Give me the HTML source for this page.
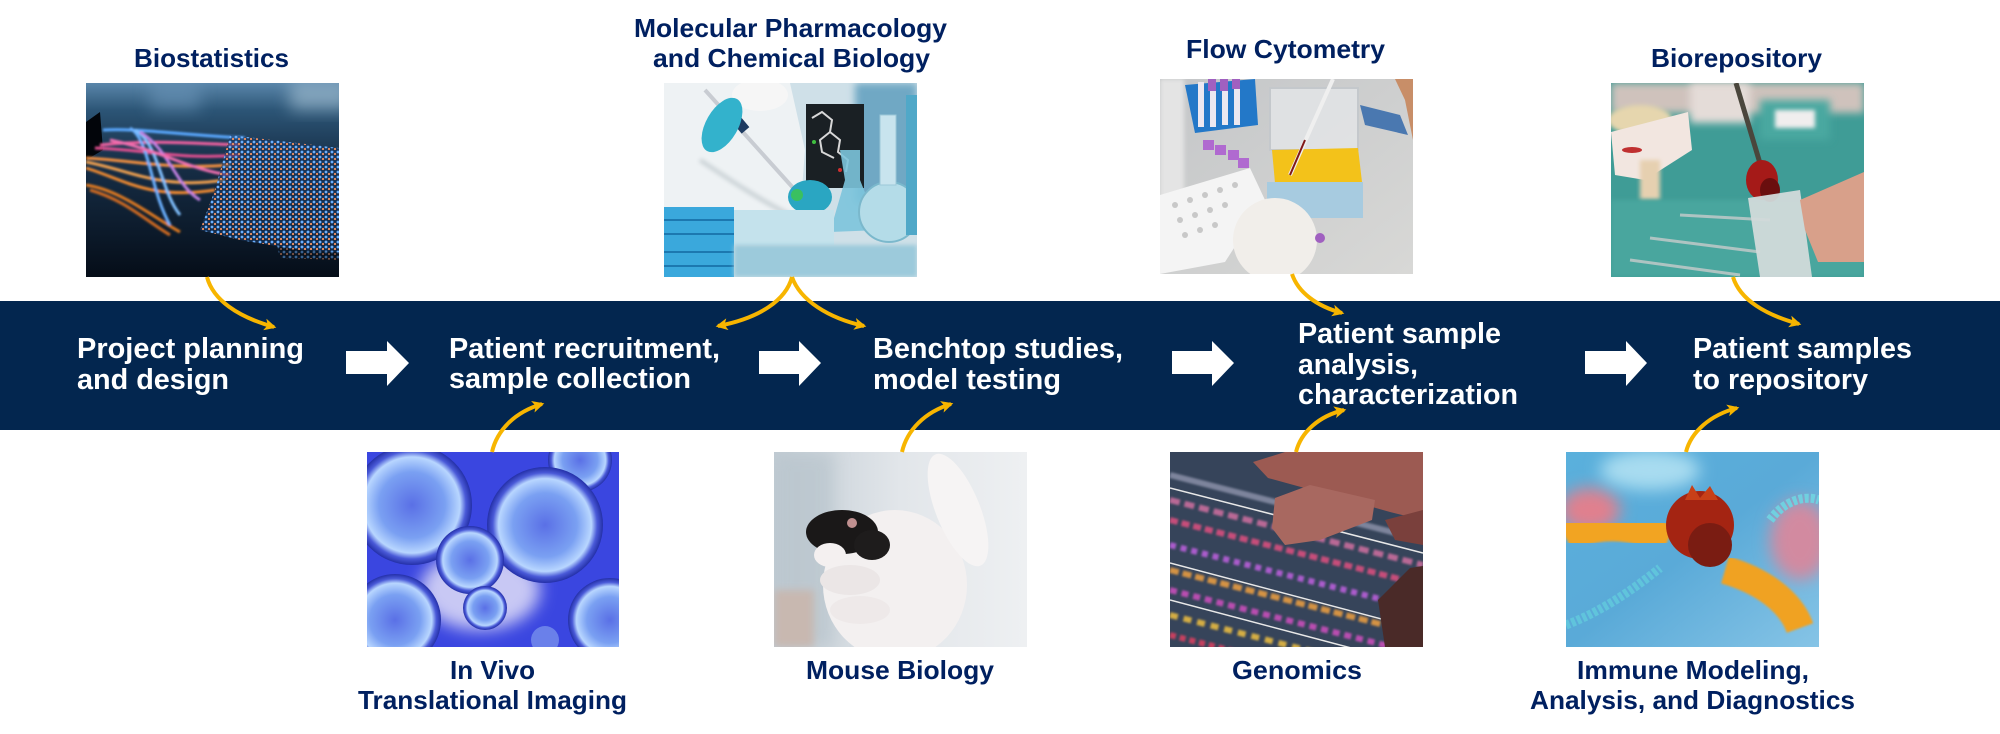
<!DOCTYPE html>
<html>
<head>
<meta charset="utf-8">
<style>
html,body{margin:0;padding:0;background:#fff;}
body{width:2000px;height:734px;overflow:hidden;}
svg{display:block;}
.t{font-family:"Liberation Sans",Arial,sans-serif;font-weight:bold;}
.lbl{fill:#002060;font-size:26px;}
.bt{fill:#ffffff;font-size:29px;}
</style>
</head>
<body>
<svg width="2000" height="734" viewBox="0 0 2000 734" xmlns="http://www.w3.org/2000/svg">
<defs>
  <filter id="b1" x="-20%" y="-20%" width="140%" height="140%"><feGaussianBlur stdDeviation="1"/></filter>
  <filter id="b2" x="-20%" y="-20%" width="140%" height="140%"><feGaussianBlur stdDeviation="2"/></filter>
  <filter id="b4" x="-30%" y="-30%" width="160%" height="160%"><feGaussianBlur stdDeviation="4"/></filter>
  <filter id="b8" x="-40%" y="-40%" width="180%" height="180%"><feGaussianBlur stdDeviation="8"/></filter>
  <marker id="ah" viewBox="0 0 10 10" refX="8" refY="5" markerWidth="3.2" markerHeight="3" orient="auto" markerUnits="strokeWidth">
    <path d="M0,0 L10,5 L0,10 L2.5,5 z" fill="#f7b500"/>
  </marker>
  <clipPath id="c1"><rect x="86" y="83" width="253" height="194"/></clipPath>
  <clipPath id="c2"><rect x="664" y="83" width="253" height="194"/></clipPath>
  <clipPath id="c3"><rect x="1160" y="79" width="253" height="195"/></clipPath>
  <clipPath id="c4"><rect x="1611" y="83" width="253" height="194"/></clipPath>
  <clipPath id="c5"><rect x="367" y="452" width="252" height="195"/></clipPath>
  <clipPath id="c6"><rect x="774" y="452" width="253" height="195"/></clipPath>
  <clipPath id="c7"><rect x="1170" y="452" width="253" height="195"/></clipPath>
  <clipPath id="c8"><rect x="1566" y="452" width="253" height="195"/></clipPath>
  <linearGradient id="g1" x1="0" y1="0" x2="0" y2="1">
    <stop offset="0" stop-color="#5a86aa"/><stop offset="0.14" stop-color="#2c5576"/>
    <stop offset="0.4" stop-color="#172f48"/><stop offset="1" stop-color="#050d18"/>
  </linearGradient>
  <pattern id="dots" width="6" height="5" patternUnits="userSpaceOnUse">
    <circle cx="2" cy="2" r="1.4" fill="#6ab0ff"/>
    <circle cx="5" cy="4" r="1.1" fill="#f09060"/>
  </pattern>
  <linearGradient id="g3" x1="0" y1="0" x2="1" y2="1">
    <stop offset="0" stop-color="#c4c6c8"/><stop offset="1" stop-color="#d8d8d6"/>
  </linearGradient>
  <radialGradient id="bub" cx="0.5" cy="0.5" r="0.5">
    <stop offset="0" stop-color="#5a70e6"/><stop offset="0.55" stop-color="#7aa0f2"/>
    <stop offset="0.8" stop-color="#b8d6ff"/><stop offset="0.9" stop-color="#4a5ad8"/>
    <stop offset="1" stop-color="#2430a8"/>
  </radialGradient>
  <linearGradient id="g6" x1="0" y1="0" x2="1" y2="0">
    <stop offset="0" stop-color="#c2ccd4"/><stop offset="0.5" stop-color="#e2e6ea"/><stop offset="1" stop-color="#eef0f2"/>
  </linearGradient>
  <linearGradient id="g8" x1="0" y1="0" x2="1" y2="1">
    <stop offset="0" stop-color="#5ab0dc"/><stop offset="0.5" stop-color="#5aaad8"/><stop offset="1" stop-color="#86c4e6"/>
  </linearGradient>
</defs>

<rect width="2000" height="734" fill="#ffffff"/>

<!-- ===== Image 1: Biostatistics ===== -->
<g clip-path="url(#c1)">
  <rect x="86" y="83" width="253" height="194" fill="url(#g1)"/>
  <rect x="150" y="80" width="50" height="30" fill="#6a94b8" filter="url(#b8)" opacity="0.6"/>
  <rect x="290" y="80" width="60" height="30" fill="#9ab8cc" filter="url(#b8)" opacity="0.7"/>
  <polygon points="86,122 100,112 103,150 86,160" fill="#02050a"/>
  <g filter="url(#b1)" fill="none" stroke-width="3">
    <path d="M103,130 C140,128 180,135 245,138" stroke="#5aa8ff"/>
    <path d="M100,145 C150,140 185,143 240,145" stroke="#f060a0"/>
    <path d="M95,148 C150,150 180,160 240,155" stroke="#e05090"/>
    <path d="M86,158 C130,160 170,170 230,165" stroke="#f39040"/>
    <path d="M86,162 C130,170 160,190 225,180" stroke="#f0a050"/>
    <path d="M86,168 C125,180 150,200 215,190" stroke="#f08a30"/>
    <path d="M86,185 C120,190 150,215 180,232" stroke="#e07a20"/>
    <path d="M90,190 C125,200 145,220 170,235" stroke="#d06a20"/>
    <path d="M130,128 C150,140 150,190 170,225" stroke="#6ab0ff"/>
    <path d="M135,130 C160,145 160,190 180,215" stroke="#80c0ff"/>
    <path d="M140,132 C170,150 175,185 200,200" stroke="#c080e0"/>
    <path d="M110,140 C160,150 190,170 230,175" stroke="#f070b0"/>
  </g>
  <polygon points="230,135 339,148 339,252 300,250 240,240 200,230 215,190" fill="#1a3a66" opacity="0.6"/>
  <polygon points="230,135 339,148 339,252 300,250 240,240 200,230 215,190" fill="url(#dots)"/>
  <polygon points="270,215 339,225 339,260 280,258" fill="url(#dots)" opacity="0.5"/>
</g>

<!-- ===== Image 2: Molecular Pharmacology ===== -->
<g clip-path="url(#c2)">
  <rect x="664" y="83" width="253" height="194" fill="#cfe0e8"/>
  <rect x="855" y="83" width="62" height="120" fill="#6fa8c4" filter="url(#b4)"/>
  <rect x="806" y="104" width="58" height="84" fill="#1a2024"/>
  <g stroke="#d8d8d8" stroke-width="2" fill="none">
    <path d="M812,118 L822,112 L832,120 L830,132 L840,140 L838,152 L848,160 L846,172"/>
    <path d="M830,132 L820,140 L822,152 L834,158"/>
  </g>
  <circle cx="814" cy="142" r="2" fill="#40c040"/>
  <circle cx="840" cy="170" r="2" fill="#d03030"/>
  <polygon points="664,83 790,83 805,150 800,215 760,240 664,235" fill="#eef2f4"/>
  <path d="M700,160 C730,180 760,200 790,215" stroke="#c8d0d4" stroke-width="4" fill="none" filter="url(#b2)"/>
  <ellipse cx="760" cy="95" rx="28" ry="16" fill="#f6f6f6"/>
  <line x1="705" y1="90" x2="795" y2="190" stroke="#c8ccd2" stroke-width="4"/>
  <rect x="736" y="118" width="10" height="14" fill="#1d3a60" transform="rotate(-40 741 125)"/>
  <ellipse cx="722" cy="125" rx="16" ry="30" fill="#33b2cc" transform="rotate(30 722 125)"/>
  <ellipse cx="810" cy="197" rx="22" ry="17" fill="#2aa6c2"/>
  <circle cx="797" cy="195" r="6" fill="#3ac060"/>
  <polygon points="840,150 860,150 860,180 880,230 830,232 845,180" fill="#7cc4dc" opacity="0.9"/>
  <circle cx="889" cy="212" r="30" fill="#b4dce8" stroke="#7ab8cc" stroke-width="2"/>
  <rect x="880" y="115" width="16" height="70" fill="#c8e4ee" stroke="#9cc8d8"/>
  <rect x="906" y="95" width="11" height="140" fill="#50a8c8"/>
  <rect x="664" y="207" width="70" height="70" fill="#3aa8dc"/>
  <g stroke="#1c78b0" stroke-width="2"><line x1="664" y1="220" x2="734" y2="220"/><line x1="664" y1="234" x2="734" y2="234"/><line x1="664" y1="252" x2="734" y2="252"/><line x1="664" y1="266" x2="734" y2="266"/></g>
  <rect x="734" y="210" width="100" height="35" fill="#c4e2ec"/>
  <rect x="734" y="245" width="183" height="32" fill="#9ccadb" filter="url(#b2)"/>
</g>

<!-- ===== Image 3: Flow Cytometry ===== -->
<g clip-path="url(#c3)">
  <rect x="1160" y="79" width="253" height="195" fill="url(#g3)"/>
  <rect x="1160" y="79" width="24" height="150" fill="#e4e4e4" filter="url(#b2)"/>
  <polygon points="1185,85 1255,79 1258,125 1195,133" fill="#2378c8"/>
  <g fill="#ece8f0"><rect x="1198" y="82" width="6" height="45"/><rect x="1210" y="82" width="6" height="45"/><rect x="1222" y="80" width="6" height="45"/><rect x="1234" y="80" width="6" height="45"/></g>
  <g fill="#a060c0"><rect x="1208" y="79" width="8" height="12"/><rect x="1220" y="79" width="8" height="12"/><rect x="1232" y="79" width="8" height="10"/></g>
  <rect x="1270" y="88" width="88" height="62" fill="#e2e4e6" stroke="#c4c8cc" stroke-width="2" opacity="0.9"/>
  <polygon points="1272,150 1358,148 1362,182 1275,183" fill="#f3c21a"/>
  <rect x="1267" y="182" width="96" height="36" fill="#a7cbe0"/>
  <polygon points="1160,195 1250,168 1265,200 1225,262 1160,274" fill="#f4f4f4"/>
  <g fill="#c8c8c8"><circle cx="1175" cy="205" r="3"/><circle cx="1190" cy="200" r="3"/><circle cx="1205" cy="195" r="3"/><circle cx="1220" cy="190" r="3"/><circle cx="1235" cy="185" r="3"/><circle cx="1180" cy="220" r="3"/><circle cx="1195" cy="215" r="3"/><circle cx="1210" cy="210" r="3"/><circle cx="1225" cy="205" r="3"/><circle cx="1185" cy="235" r="3"/><circle cx="1200" cy="230" r="3"/><circle cx="1215" cy="225" r="3"/></g>
  <g fill="#b06ad0"><rect x="1203" y="140" width="11" height="10"/><rect x="1215" y="145" width="11" height="10"/><rect x="1228" y="150" width="11" height="10"/><rect x="1238" y="158" width="11" height="10"/></g>
  <ellipse cx="1275" cy="240" rx="42" ry="42" fill="#f1eeea"/>
  <line x1="1333" y1="79" x2="1290" y2="175" stroke="#efefef" stroke-width="4"/>
  <line x1="1305" y1="140" x2="1290" y2="175" stroke="#801818" stroke-width="2"/>
  <polygon points="1360,105 1400,115 1408,135 1365,125" fill="#4a78b0"/>
  <polygon points="1395,79 1413,79 1413,140 1405,100" fill="#c88e68"/>
  <circle cx="1320" cy="238" r="5" fill="#a060c0"/>
</g>

<!-- ===== Image 4: Biorepository ===== -->
<g clip-path="url(#c4)">
  <rect x="1611" y="83" width="253" height="194" fill="#3f9c96"/>
  <rect x="1611" y="83" width="253" height="30" fill="#cfc2bc" filter="url(#b4)"/>
  <rect x="1690" y="83" width="60" height="40" fill="#e4dcd8" filter="url(#b4)"/>
  <rect x="1760" y="100" width="70" height="40" fill="#4aa8a0" filter="url(#b4)"/>
  <rect x="1775" y="110" width="40" height="18" fill="#f0eeee" filter="url(#b2)"/>
  <ellipse cx="1640" cy="120" rx="32" ry="15" fill="#e6d6ae" filter="url(#b2)"/>
  <polygon points="1611,132 1688,112 1692,150 1645,180 1615,175" fill="#f2e6e0"/>
  <ellipse cx="1632" cy="150" rx="10" ry="3" fill="#c03030"/>
  <rect x="1640" y="160" width="20" height="40" fill="#e6d0b0" filter="url(#b2)"/>
  <rect x="1611" y="200" width="253" height="77" fill="#48a69e" filter="url(#b2)"/>
  <g stroke="#c8cccc" stroke-width="3" opacity="0.8"><line x1="1650" y1="238" x2="1760" y2="252"/><line x1="1630" y1="260" x2="1740" y2="275"/><line x1="1680" y1="215" x2="1770" y2="220"/></g>
  <line x1="1736" y1="83" x2="1762" y2="170" stroke="#4a463c" stroke-width="5"/>
  <ellipse cx="1762" cy="180" rx="16" ry="20" fill="#a51a18"/>
  <ellipse cx="1770" cy="190" rx="10" ry="12" fill="#6a0e0e"/>
  <polygon points="1748,198 1800,190 1812,277 1760,277" fill="#d2dada" opacity="0.95"/>
  <polygon points="1800,200 1864,172 1864,262 1818,262 1805,230" fill="#d8a08a"/>
</g>

<!-- ===== Image 5: In Vivo ===== -->
<g clip-path="url(#c5)">
  <rect x="367" y="452" width="252" height="195" fill="#3a46e0"/>
  <ellipse cx="480" cy="590" rx="60" ry="40" fill="#c8c8f4" filter="url(#b8)"/>
  <circle cx="580" cy="460" r="32" fill="url(#bub)"/>
  <circle cx="412" cy="505" r="60" fill="url(#bub)"/>
  <circle cx="545" cy="525" r="58" fill="url(#bub)"/>
  <circle cx="470" cy="560" r="34" fill="url(#bub)"/>
  <circle cx="395" cy="620" r="46" fill="url(#bub)"/>
  <circle cx="610" cy="620" r="42" fill="url(#bub)"/>
  <circle cx="485" cy="608" r="22" fill="url(#bub)"/>
  <circle cx="545" cy="640" r="14" fill="#6a80ea"/>
</g>

<!-- ===== Image 6: Mouse Biology ===== -->
<g clip-path="url(#c6)">
  <rect x="774" y="452" width="253" height="195" fill="url(#g6)"/>
  <rect x="774" y="452" width="60" height="195" fill="#b8c4cc" filter="url(#b8)" opacity="0.7"/>
  <rect x="774" y="590" width="40" height="57" fill="#c8b8b0" filter="url(#b4)"/>
  <ellipse cx="895" cy="585" rx="72" ry="75" fill="#f3f0f0"/>
  <ellipse cx="958" cy="510" rx="22" ry="60" fill="#f6f4f4" transform="rotate(-22 958 510)"/>
  <ellipse cx="850" cy="580" rx="30" ry="15" fill="#ebe6e6"/>
  <ellipse cx="860" cy="610" rx="30" ry="14" fill="#eee9e9"/>
  <ellipse cx="842" cy="532" rx="36" ry="22" fill="#1a1818"/>
  <ellipse cx="872" cy="545" rx="18" ry="15" fill="#1e1c1c"/>
  <circle cx="852" cy="523" r="5" fill="#c09090"/>
  <ellipse cx="830" cy="555" rx="16" ry="12" fill="#f4f0f0"/>
</g>

<!-- ===== Image 7: Genomics ===== -->
<g clip-path="url(#c7)">
  <rect x="1170" y="452" width="253" height="195" fill="#36445a"/>
  <g fill="none" stroke-width="6" opacity="0.85" filter="url(#b1)">
    <path d="M1170,475 L1423,540" stroke="#8a90a8"/>
    <path d="M1170,500 L1423,565" stroke="#d070a0" stroke-dasharray="10,5"/>
    <path d="M1170,520 L1423,585" stroke="#e05080" stroke-dasharray="8,4"/>
    <path d="M1170,545 L1423,610" stroke="#c060e0" stroke-dasharray="6,5"/>
    <path d="M1170,570 L1423,635" stroke="#f0a040" stroke-dasharray="9,4"/>
    <path d="M1170,590 L1423,655" stroke="#d050c0" stroke-dasharray="7,5"/>
    <path d="M1170,615 L1423,680" stroke="#f0c040" stroke-dasharray="8,6"/>
    <path d="M1170,635 L1423,700" stroke="#e04060" stroke-dasharray="6,4"/>
  </g>
  <g stroke="#e8e8e8" stroke-width="1.5"><line x1="1170" y1="563" x2="1423" y2="630"/><line x1="1170" y1="600" x2="1423" y2="667"/><line x1="1170" y1="488" x2="1423" y2="553"/></g>
  <polygon points="1253,462 1285,452 1423,452 1423,520 1390,512 1330,495 1268,478" fill="#9c5a52"/>
  <polygon points="1275,498 1310,485 1375,500 1372,520 1320,540 1285,545 1272,528" fill="#a86860"/>
  <polygon points="1385,520 1423,510 1423,545 1395,540" fill="#7a403c"/>
  <polygon points="1378,600 1410,568 1423,566 1423,647 1385,647" fill="#4a2a28"/>
</g>

<!-- ===== Image 8: Immune Modeling ===== -->
<g clip-path="url(#c8)">
  <rect x="1566" y="452" width="253" height="195" fill="url(#g8)"/>
  <ellipse cx="1590" cy="510" rx="30" ry="22" fill="#e0808e" filter="url(#b8)"/>
  <ellipse cx="1800" cy="540" rx="30" ry="40" fill="#d28aa0" filter="url(#b8)"/>
  <ellipse cx="1650" cy="470" rx="50" ry="20" fill="#a8dcf0" filter="url(#b8)"/>
  <path d="M1770,520 C1785,500 1805,495 1819,500" stroke="#70d0e0" stroke-width="9" fill="none" stroke-dasharray="4,2"/>
  <path d="M1566,625 C1600,612 1630,592 1660,568" stroke="#60c4dc" stroke-width="9" fill="none" stroke-dasharray="4,2"/>
  <path d="M1566,538 C1595,522 1630,522 1668,540" stroke="#f2a420" stroke-width="30" fill="none" filter="url(#b1)"/>
  <path d="M1725,570 C1760,580 1790,600 1800,628" stroke="#f0a222" stroke-width="28" fill="none" filter="url(#b1)"/>
  <ellipse cx="1700" cy="525" rx="34" ry="34" fill="#a42412"/>
  <ellipse cx="1710" cy="545" rx="22" ry="22" fill="#7a1c12"/>
  <polygon points="1685,500 1692,485 1700,498 1710,486 1718,500" fill="#c84018"/>
</g>

<!-- ===== Band ===== -->
<rect x="0" y="301" width="2000" height="129" fill="#03264f"/>

<!-- White block arrows -->
<g fill="#ffffff">
  <polygon points="346,351 387,351 387,341 409,363 387,386 387,374 346,374"/>
  <polygon points="759,351 799,351 799,341 821,363 799,386 799,374 759,374"/>
  <polygon points="1172,351 1212,351 1212,341 1234,363 1212,386 1212,374 1172,374"/>
  <polygon points="1585,351 1626,351 1626,341 1647,363 1626,386 1626,374 1585,374"/>
</g>

<!-- Band text -->
<g class="t bt">
  <text x="77" y="358" textLength="227" lengthAdjust="spacingAndGlyphs">Project planning</text>
  <text x="77" y="389" textLength="152" lengthAdjust="spacingAndGlyphs">and design</text>
  <text x="449" y="358" textLength="271" lengthAdjust="spacingAndGlyphs">Patient recruitment,</text>
  <text x="449" y="388" textLength="242" lengthAdjust="spacingAndGlyphs">sample collection</text>
  <text x="873" y="358" textLength="250" lengthAdjust="spacingAndGlyphs">Benchtop studies,</text>
  <text x="873" y="389" textLength="188" lengthAdjust="spacingAndGlyphs">model testing</text>
  <text x="1298" y="343" textLength="203" lengthAdjust="spacingAndGlyphs">Patient sample</text>
  <text x="1298" y="374" textLength="120" lengthAdjust="spacingAndGlyphs">analysis,</text>
  <text x="1298" y="404" textLength="220" lengthAdjust="spacingAndGlyphs">characterization</text>
  <text x="1693" y="358" textLength="219" lengthAdjust="spacingAndGlyphs">Patient samples</text>
  <text x="1693" y="389" textLength="175" lengthAdjust="spacingAndGlyphs">to repository</text>
</g>

<!-- Top labels -->
<g class="t lbl">
  <text x="134" y="67" textLength="155" lengthAdjust="spacingAndGlyphs">Biostatistics</text>
  <text x="634" y="37" textLength="313" lengthAdjust="spacingAndGlyphs">Molecular Pharmacology</text>
  <text x="653" y="67" textLength="277" lengthAdjust="spacingAndGlyphs">and Chemical Biology</text>
  <text x="1186" y="58" textLength="199" lengthAdjust="spacingAndGlyphs">Flow Cytometry</text>
  <text x="1651" y="67" textLength="171" lengthAdjust="spacingAndGlyphs">Biorepository</text>
</g>

<!-- Bottom labels -->
<g class="t lbl">
  <text x="450" y="679" textLength="85" lengthAdjust="spacingAndGlyphs">In Vivo</text>
  <text x="358" y="709" textLength="269" lengthAdjust="spacingAndGlyphs">Translational Imaging</text>
  <text x="806" y="679" textLength="188" lengthAdjust="spacingAndGlyphs">Mouse Biology</text>
  <text x="1232" y="679" textLength="130" lengthAdjust="spacingAndGlyphs">Genomics</text>
  <text x="1577" y="679" textLength="232" lengthAdjust="spacingAndGlyphs">Immune Modeling,</text>
  <text x="1530" y="709" textLength="325" lengthAdjust="spacingAndGlyphs">Analysis, and Diagnostics</text>
</g>

<!-- Yellow connectors -->
<g fill="none" stroke="#f7b500" stroke-width="4" marker-end="url(#ah)">
  <path d="M207,277 C213,300 238,317 274,327"/>
  <path d="M792,277 C786,300 760,318 718,326"/>
  <path d="M792,277 C800,300 828,318 864,326"/>
  <path d="M1292,274 C1298,292 1316,306 1342,313"/>
  <path d="M1733,277 C1740,300 1766,315 1799,324"/>
  <path d="M492,452 C497,430 515,412 542,404"/>
  <path d="M902,452 C907,430 925,412 951,404"/>
  <path d="M1296,452 C1301,432 1319,416 1344,410"/>
  <path d="M1686,452 C1691,432 1710,415 1737,408"/>
</g>
</svg>
</body>
</html>
